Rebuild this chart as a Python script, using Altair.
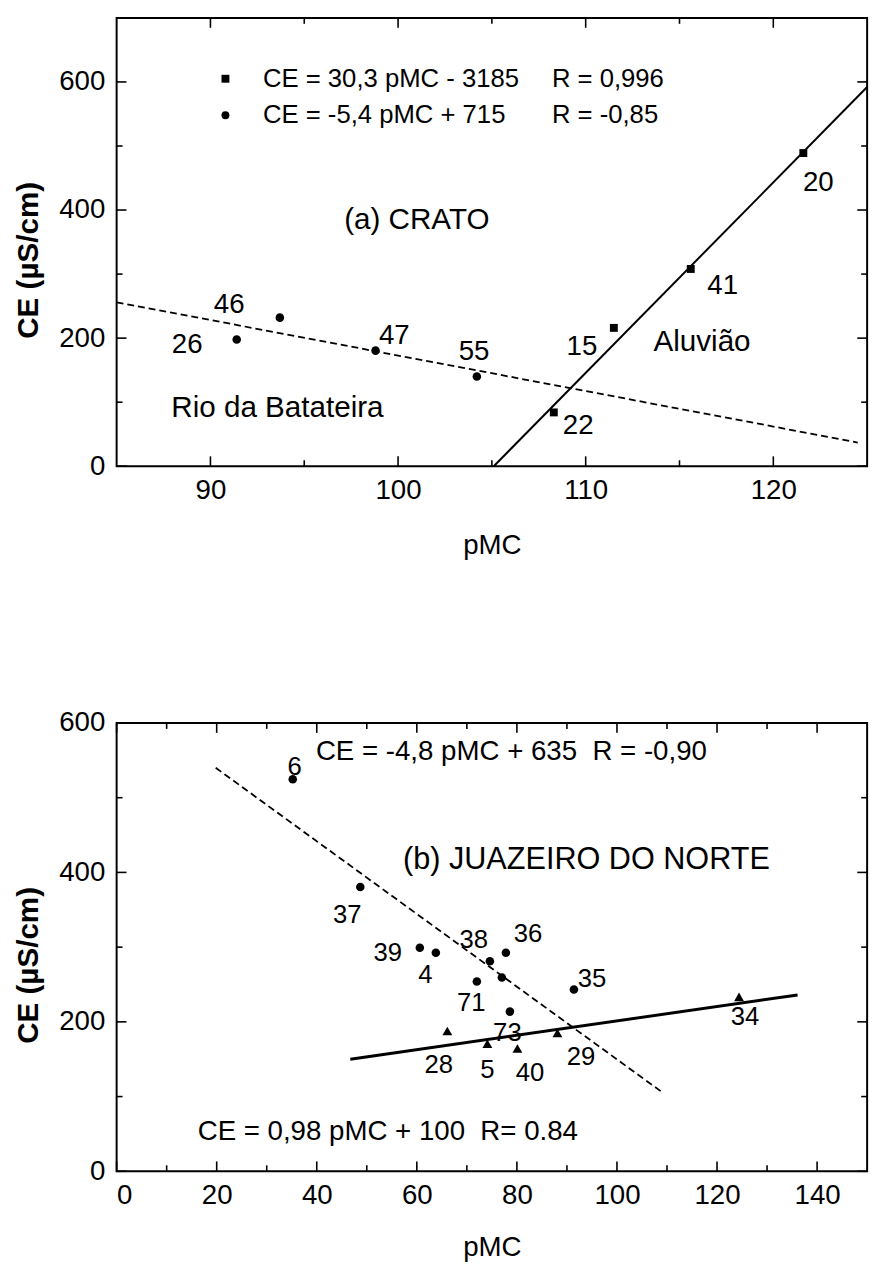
import altair as alt
import pandas as pd

FONT = "Liberation Sans"
W, H = 760, 454

# ---------------- Panel (a) CRATO ----------------
a_circ_pmc = [91.4, 93.7, 98.8, 104.2]
a_circ_ce = [198, 232, 180.5, 140]
a_sq_pmc = [108.3, 111.5, 115.6, 121.6]
a_sq_ce = [84, 216, 308, 489]
a_solid_pmc = [105.1, 125.0]
a_solid_ce = [0, 592]
a_dash_pmc = [85.0, 124.5]
a_dash_ce = [256, 37]
a_num_text = ["26", "46", "47", "55", "22", "15", "41", "20"]
a_num_pmc = [88.76, 91.0, 99.8, 104.05, 109.6, 109.8, 117.3, 122.4]
a_num_ce = [189, 251, 202.6, 178, 62, 186, 282, 442]
a_word_text = ["Aluvião", "Rio da Batateira", "(a) CRATO"]
a_word_pmc = [116.2, 93.57, 101.0]
a_word_ce = [194, 90, 384]
a_leg_shape = ["square", "circle"]
a_leg_pmc = [90.8, 90.8]
a_leg_ce = [605, 548]
a_leg_eq = ["CE = 30,3 pMC - 3185", "CE = -5,4 pMC + 715"]
a_leg_eq_pmc = [92.8, 92.8]
a_leg_r = ["R = 0,996", "R = -0,85"]
a_leg_r_pmc = [108.2, 108.2]
a_x_dom = [85, 125]
a_y_dom = [0, 700]
a_x_major = [90, 100, 110, 120]
a_x_minor = [95, 105, 115]
a_y_major = [0, 200, 400, 600]
a_y_minor = [100, 300, 500]

# ---------------- Panel (b) JUAZEIRO DO NORTE ----------------
b_circ_pmc = [35.2, 48.7, 60.6, 63.8, 74.6, 77.8, 72.0, 77.0, 78.6, 91.4]
b_circ_ce = [524.8, 380.6, 299.2, 292.5, 281, 292.5, 254, 259.3, 213.7, 243.2]
b_tri_pmc = [66.1, 74.1, 80.1, 88.1, 124.4]
b_tri_ce = [187.7, 170.6, 164.4, 185.1, 233.4]
b_solid_pmc = [46.7, 136.1]
b_solid_ce = [150, 236]
b_dash_pmc = [19.8, 109.2]
b_dash_ce = [540, 105]
b_lab_text = ["6", "37", "39", "4", "38", "36", "35", "71", "73", "34", "28", "5", "40", "29"]
b_lab_pmc = [35.6, 46.1, 54.2, 61.7, 71.4, 82.2, 95.0, 70.9, 78.1, 125.6, 64.4, 74.1, 82.6, 92.8]
b_lab_ce = [541.4, 343.3, 291.5, 263, 309.6, 317.4, 257.7, 225, 185.1, 205.9, 142.1, 134.8, 131.7, 152.5]
b_eq_text = ["CE = -4,8 pMC + 635\u00a0\u00a0R = -0,90", "CE = 0,98 pMC + 100\u00a0\u00a0R= 0.84"]
b_eq_pmc = [78.9, 54.2]
b_eq_ce = [561, 52.9]
b_title_text = ["(b) JUAZEIRO DO NORTE"]
b_title_pmc = [93.9]
b_title_ce = [417]
b_x_dom = [0, 150]
b_y_dom = [0, 600]
b_x_major = [0, 20, 40, 60, 80, 100, 120, 140]
b_x_minor = [10, 30, 50, 70, 90, 110, 130]
b_y_major = [0, 200, 400, 600]
b_y_minor = [100, 300, 500]


def tick_layers(xs, ys, xmaj, xmin, ymaj, ymin):
    layers = []
    for vals, ln in ((xmaj, 10), (xmin, 6)):
        df = pd.DataFrame({"pMC": vals})
        for y0, y1 in ((H, H - ln), (0, ln)):
            layers.append(alt.Chart(df).mark_rule(color="black", strokeWidth=1.6).encode(
                x=alt.X("pMC:Q", scale=xs),
                y=alt.value(y0), y2=alt.value(y1)))
    for vals, ln in ((ymaj, 10), (ymin, 6)):
        df = pd.DataFrame({"CE": vals})
        for x0, x1 in ((0, ln), (W, W - ln)):
            layers.append(alt.Chart(df).mark_rule(color="black", strokeWidth=1.6).encode(
                y=alt.Y("CE:Q", scale=ys),
                x=alt.value(x0), x2=alt.value(x1)))
    return layers


def axes(xs, ys, xvals, yvals, tpad):
    xa = alt.X("pMC:Q", scale=xs, axis=alt.Axis(values=xvals, title="pMC", titleFontWeight="normal",
                                                 titleFontSize=28, labelPadding=11, titlePadding=tpad,
                                                 format="d"))
    ya = alt.Y("CE:Q", scale=ys, axis=alt.Axis(values=yvals, title="CE (µS/cm)", titleFontWeight="bold",
                                                titleFontSize=30, labelPadding=12, titlePadding=15,
                                                titleY=H / 2 + 18, format="d"))
    return xa, ya


def nx(xs):
    return alt.X("pMC:Q", scale=xs)


def ny(ys):
    return alt.Y("CE:Q", scale=ys)


def txt(pmc, ce, t, xs, ys, size, align="center"):
    return alt.Chart(pd.DataFrame({"pMC": pmc, "CE": ce, "t": t})).mark_text(
        font=FONT, fontSize=size, color="black", align=align, baseline="middle").encode(
        x=nx(xs), y=ny(ys), text="t:N")


# ---- build panel a ----
xs_a = alt.Scale(domain=a_x_dom, nice=False, zero=False)
ys_a = alt.Scale(domain=a_y_dom, nice=False, zero=False)
xa, ya = axes(xs_a, ys_a, a_x_major, a_y_major, 27)

a_layers = [
    alt.Chart(pd.DataFrame({"pMC": a_circ_pmc, "CE": a_circ_ce})).mark_point(
        shape="circle", filled=True, color="black", size=75, opacity=1).encode(x=xa, y=ya),
    alt.Chart(pd.DataFrame({"pMC": a_sq_pmc, "CE": a_sq_ce})).mark_point(
        shape="square", filled=True, color="black", size=64, opacity=1).encode(x=nx(xs_a), y=ny(ys_a)),
    alt.Chart(pd.DataFrame({"pMC": a_solid_pmc, "CE": a_solid_ce})).mark_line(
        color="black", strokeWidth=2).encode(x=nx(xs_a), y=ny(ys_a)),
    alt.Chart(pd.DataFrame({"pMC": a_dash_pmc, "CE": a_dash_ce})).mark_line(
        color="black", strokeWidth=1.8, strokeDash=[7, 4]).encode(x=nx(xs_a), y=ny(ys_a)),
    txt(a_num_pmc, a_num_ce, a_num_text, xs_a, ys_a, 28),
    txt(a_word_pmc, a_word_ce, a_word_text, xs_a, ys_a, 30),
    alt.Chart(pd.DataFrame({"pMC": a_leg_pmc, "CE": a_leg_ce, "s": a_leg_shape})).mark_point(
        filled=True, color="black", size=64, opacity=1).encode(
        x=nx(xs_a), y=ny(ys_a),
        shape=alt.Shape("s:N", scale=alt.Scale(domain=["square", "circle"], range=["square", "circle"]),
                        legend=None)),
    txt(a_leg_eq_pmc, a_leg_ce, a_leg_eq, xs_a, ys_a, 26, "left"),
    txt(a_leg_r_pmc, a_leg_ce, a_leg_r, xs_a, ys_a, 26, "left"),
] + tick_layers(xs_a, ys_a, a_x_major, a_x_minor, a_y_major, a_y_minor)

panel_a = alt.layer(*a_layers).properties(width=W, height=H)

# ---- build panel b ----
xs_b = alt.Scale(domain=b_x_dom, nice=False, zero=False)
ys_b = alt.Scale(domain=b_y_dom, nice=False, zero=False)
xb, yb = axes(xs_b, ys_b, b_x_major, b_y_major, 24)

b_layers = [
    alt.Chart(pd.DataFrame({"pMC": b_circ_pmc, "CE": b_circ_ce})).mark_point(
        shape="circle", filled=True, color="black", size=75, opacity=1).encode(x=xb, y=yb),
    alt.Chart(pd.DataFrame({"pMC": b_tri_pmc, "CE": b_tri_ce})).mark_point(
        shape="triangle-up", filled=True, color="black", size=100, opacity=1).encode(x=nx(xs_b), y=ny(ys_b)),
    alt.Chart(pd.DataFrame({"pMC": b_solid_pmc, "CE": b_solid_ce})).mark_line(
        color="black", strokeWidth=3).encode(x=nx(xs_b), y=ny(ys_b)),
    alt.Chart(pd.DataFrame({"pMC": b_dash_pmc, "CE": b_dash_ce})).mark_line(
        color="black", strokeWidth=1.8, strokeDash=[7, 4]).encode(x=nx(xs_b), y=ny(ys_b)),
    txt(b_lab_pmc, b_lab_ce, b_lab_text, xs_b, ys_b, 26),
    txt(b_eq_pmc, b_eq_ce, b_eq_text, xs_b, ys_b, 28),
    txt(b_title_pmc, b_title_ce, b_title_text, xs_b, ys_b, 31),
] + tick_layers(xs_b, ys_b, b_x_major, b_x_minor, b_y_major, b_y_minor)

panel_b = alt.layer(*b_layers).properties(width=W, height=H)

chart = alt.vconcat(panel_a, panel_b, spacing=150).properties(
    padding={"left": 5, "top": 0, "right": 5, "bottom": 5},
    background="white"
).configure_view(
    stroke="black", strokeWidth=2
).configure_axis(
    labelFont=FONT, titleFont=FONT, labelFontSize=28, titleFontSize=28,
    labelColor="black", titleColor="black", ticks=False, domain=False, grid=False
)

chart.save("out.html", embed_options={"renderer": "svg", "actions": False})
